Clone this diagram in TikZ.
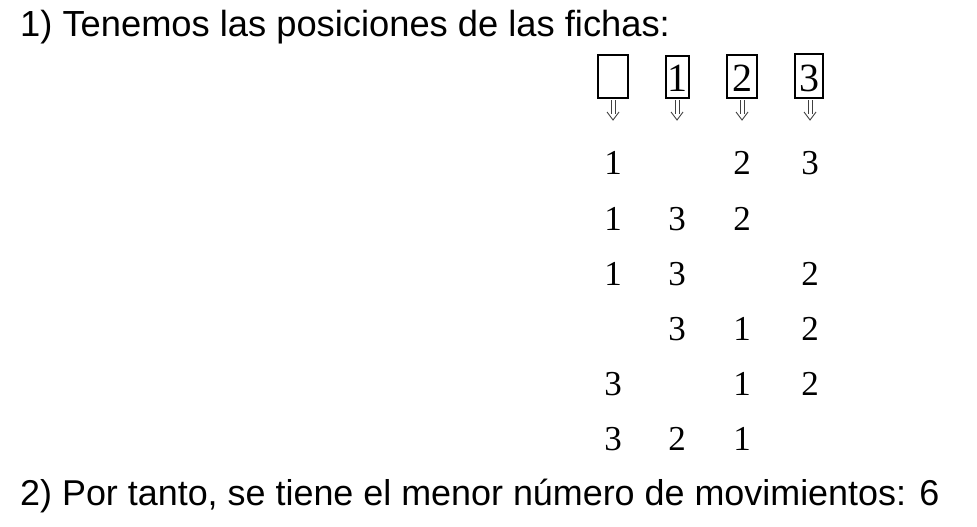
\documentclass[tikz,border=0pt]{standalone}
\usepackage{fontspec}
\setmainfont{Liberation Serif}
\newfontfamily\arialf{Liberation Sans}
\begin{document}
\begin{tikzpicture}[x=1pt,y=-1pt,
  headtext/.style={anchor=base west,inner sep=0pt,font=\arialf\fontsize{36.3}{40}\selectfont},
  ficha/.style={draw,line width=1.2pt,inner sep=0pt},
  num/.style={anchor=base,inner sep=0pt,font=\fontsize{35}{40}\selectfont},
  dbl/.style={line width=0.9pt,draw=black!75}]
\useasboundingbox (0,0) rectangle (977,527);
\node[headtext] (t1) at (20,37) {1) Tenemos las posiciones de las fichas:};
\node[headtext,font=\arialf\fontsize{35.9}{40}\selectfont] (t2) at (20,505) {2) Por tanto, se tiene el menor número de movimientos: 6};
% boxes
\node[ficha,minimum width=30pt,minimum height=43pt] (b1) at (613,76.5) {};
\node[ficha,minimum width=23pt,minimum height=42pt] (b2) at (677.5,77) {};
\node[ficha,minimum width=30pt,minimum height=43pt] (b3) at (742,76.5) {};
\node[ficha,minimum width=28pt,minimum height=44pt] (b4) at (809,76) {};
\node[num,font=\fontsize{40}{44}\selectfont] (d2) at (677.5,92) {1};
\node[num,font=\fontsize{40}{44}\selectfont] (d3) at (742,92) {2};
\node[num,font=\fontsize{40}{44}\selectfont] (d4) at (809,92) {3};
% arrows
\foreach \cx/\n in {613/1,677/2,742/3,810/4}{
  \coordinate (a\n) at (\cx,100);
  \draw[dbl] ([shift={(-2,0)}]a\n) -- ++(0,14) ([shift={(2,0)}]a\n) -- ++(0,14);
  \draw[dbl,line join=miter] ([shift={(-6,12)}]a\n) -- ([shift={(0,20)}]a\n) -- ([shift={(6,12)}]a\n);
}
% rows
\foreach \y/\r in {174/1,230/2,285/3,340/4,395/5,450/6}{
  \foreach \cx/\c in {613/1,677/2,742/3,810/4}{
    \coordinate (p\r\c) at (\cx,\y);
  }
}
\node[num] (n11) at (p11) {1};
\node[num] (n13) at (p13) {2};
\node[num] (n14) at (p14) {3};
\node[num] (n21) at (p21) {1};
\node[num] (n22) at (p22) {3};
\node[num] (n23) at (p23) {2};
\node[num] (n31) at (p31) {1};
\node[num] (n32) at (p32) {3};
\node[num] (n34) at (p34) {2};
\node[num] (n42) at (p42) {3};
\node[num] (n43) at (p43) {1};
\node[num] (n44) at (p44) {2};
\node[num] (n51) at (p51) {3};
\node[num] (n53) at (p53) {1};
\node[num] (n54) at (p54) {2};
\node[num] (n61) at (p61) {3};
\node[num] (n62) at (p62) {2};
\node[num] (n63) at (p63) {1};
\end{tikzpicture}
\end{document}
